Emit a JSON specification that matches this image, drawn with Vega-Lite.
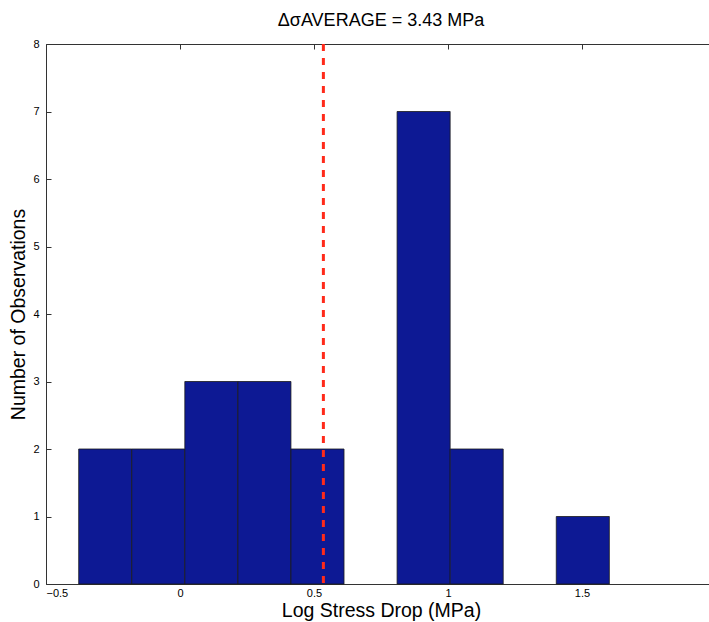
{
  "$schema": "https://vega.github.io/schema/vega-lite/v6.json",
  "width": 670,
  "height": 540,
  "autosize": {"type": "none"},
  "padding": {"left": 46, "top": 44, "right": 0, "bottom": 38},
  "background": "white",
  "title": {
    "text": "ΔσAVERAGE = 3.43 MPa",
    "font": "Liberation Sans",
    "fontSize": 18,
    "fontWeight": "normal",
    "color": "#000000",
    "anchor": "middle",
    "offset": 8
  },
  "config": {
    "view": {"stroke": "#333333", "strokeWidth": 1},
    "axis": {
      "grid": false,
      "domain": false,
      "tickColor": "#333333",
      "labelFont": "Liberation Sans",
      "labelFontSize": 11,
      "labelColor": "#000000",
      "titleFont": "Liberation Sans",
      "titleFontSize": 19.5,
      "titleFontWeight": "normal",
      "titleColor": "#000000"
    }
  },
  "datasets": {
    "bins": [
      {"start": -0.378, "end": -0.180, "count": 2},
      {"start": -0.180, "end": 0.018, "count": 2},
      {"start": 0.018, "end": 0.216, "count": 3},
      {"start": 0.216, "end": 0.414, "count": 3},
      {"start": 0.414, "end": 0.612, "count": 2},
      {"start": 0.810, "end": 1.008, "count": 7},
      {"start": 1.008, "end": 1.206, "count": 2},
      {"start": 1.404, "end": 1.602, "count": 1}
    ],
    "avg": [{"logavg": 0.535}]
  },
  "layer": [
    {
      "data": {"name": "bins"},
      "mark": {"type": "rect", "fill": "#0d1994", "stroke": "#1a1a1a", "strokeWidth": 0.8},
      "encoding": {
        "x": {
          "field": "start", "type": "quantitative",
          "scale": {"domain": [-0.5, 2], "nice": false, "zero": false},
          "axis": {
            "title": "Log Stress Drop (MPa)",
            "values": [-0.5, 0, 0.5, 1, 1.5],
            "format": "~g",
            "tickSize": -5,
            "labelPadding": 8,
            "titlePadding": 3
          }
        },
        "x2": {"field": "end"},
        "y": {
          "field": "count", "type": "quantitative",
          "scale": {"domain": [0, 8], "nice": false},
          "axis": {
            "title": "Number of Observations",
            "values": [0, 1, 2, 3, 4, 5, 6, 7, 8],
            "tickSize": -5,
            "labelPadding": 12,
            "titlePadding": 4
          }
        },
        "y2": {"datum": 0}
      }
    },
    {
      "data": {"name": "avg"},
      "mark": {"type": "rule", "color": "#ff2a1a", "strokeWidth": 3, "strokeDash": [7, 7]},
      "encoding": {
        "x": {
          "field": "logavg", "type": "quantitative",
          "scale": {"domain": [-0.5, 2], "nice": false, "zero": false},
          "axis": {
            "orient": "top",
            "title": null,
            "labels": false,
            "values": [-0.5, 0, 0.5, 1, 1.5],
            "tickSize": -5
          }
        }
      }
    }
  ],
  "resolve": {"axis": {"x": "independent"}}
}
